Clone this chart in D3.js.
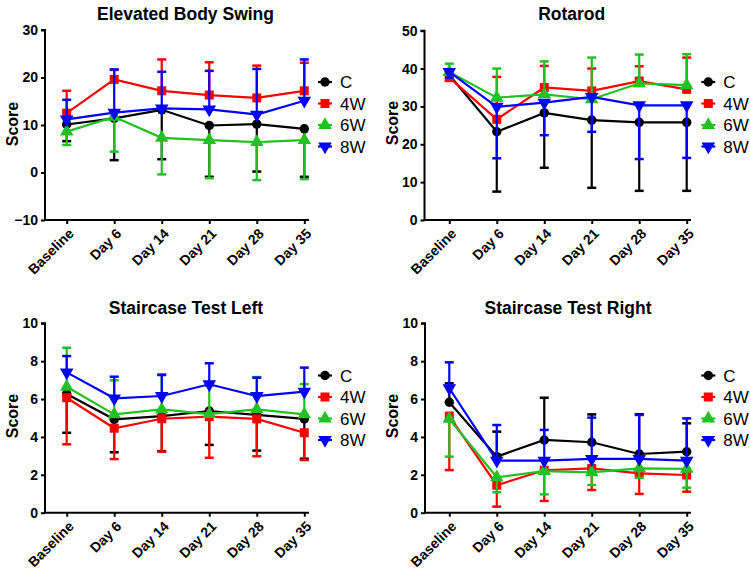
<!DOCTYPE html>
<html><head><meta charset="utf-8">
<script src="https://cdn.jsdelivr.net/npm/d3@7/dist/d3.min.js"></script>
<style>
html,body{margin:0;padding:0;background:#fff;}
svg{display:block;}
text{font-family:"Liberation Sans",Arial,sans-serif;}
</style></head>
<body>
<svg id="chart" width="750" height="573"></svg>
<script>
// ---------- data ----------
const categories = ["Baseline","Day 6","Day 14","Day 21","Day 28","Day 35"];
const seriesNames = ["C","4W","6W","8W"];

// Elevated Body Swing
const ebsC   = [10.1, 11.4, 13.2, 9.9, 10.2, 9.2];
const ebs4W  = [12.5, 19.6, 17.2, 16.3, 15.7, 17.2];
const ebs6W  = [8.6, 11.7, 7.3, 6.8, 6.4, 6.8];
const ebs8W  = [11.2, 12.6, 13.5, 13.3, 12.2, 15.1];
const ebsErrC  = [3.5, 8.8, 10.4, 10.8, 10.0, 10.1];
const ebsErr4W = [4.7, 2.0, 6.6, 6.9, 6.8, 5.9];
const ebsErr6W = [2.8, 7.3, 7.7, 8.0, 8.0, 8.2];
const ebsErr8W = [4.1, 9.1, 7.7, 8.1, 9.6, 8.7];
const ebsErrDir = [-1, 1, -1, 1];
const ebsTicks = [-10, 0, 10, 20, 30];

// Rotarod
const rotC   = [38.3, 23.3, 28.3, 26.4, 25.8, 25.8];
const rot4W  = [37.6, 26.6, 35.0, 34.1, 36.7, 34.5];
const rot6W  = [39.1, 32.3, 33.2, 31.9, 36.1, 35.6];
const rot8W  = [39.1, 29.9, 31.0, 32.5, 30.3, 30.3];
const rotErrC  = [1.5, 15.8, 14.5, 17.9, 18.1, 18.1];
const rotErr4W = [2.2, 11.2, 5.7, 5.9, 3.9, 8.4];
const rotErr6W = [2.2, 7.7, 8.7, 11.0, 7.6, 8.2];
const rotErr8W = [1.5, 13.6, 8.6, 9.2, 14.2, 13.9];
const rotErrDir = [-1, 1, 1, -1];
const rotTicks = [0, 10, 20, 30, 40, 50];

// Staircase Test Left
const stlC   = [6.27, 4.93, 5.1, 5.37, 5.16, 4.95];
const stl4W  = [6.07, 4.46, 4.96, 5.07, 4.95, 4.22];
const stl6W  = [6.65, 5.19, 5.45, 5.21, 5.46, 5.19];
const stl8W  = [7.41, 6.04, 6.16, 6.78, 6.16, 6.39];
const stlErrC  = [2.05, 1.74, 1.85, 1.79, 1.88, 2.1];
const stlErr4W = [2.46, 1.63, 1.74, 2.17, 1.97, 1.44];
const stlErr6W = [2.06, 1.8, 1.86, 1.5, 1.7, 1.6];
const stlErr8W = [0.86, 1.14, 1.11, 1.11, 0.97, 1.27];
const stlErrDir = [-1, -1, 1, 1];
const stlTicks = [0, 2, 4, 6, 8, 10];

// Staircase Test Right
const strC   = [5.83, 2.96, 3.84, 3.72, 3.1, 3.22];
const str4W  = [5.10, 1.45, 2.24, 2.34, 2.08, 1.99];
const str6W  = [4.95, 1.87, 2.2, 2.13, 2.34, 2.31];
const str8W  = [6.57, 2.75, 2.75, 2.84, 2.84, 2.75];
const strErrC  = [1.0, 1.32, 2.23, 1.47, 2.1, 1.5];
const strErr4W = [2.85, 1.13, 1.62, 1.14, 1.09, 0.88];
const strErr6W = [1.99, 0.79, 1.23, 0.67, 0.5, 0.99];
const strErr8W = [1.37, 1.88, 1.62, 2.18, 2.32, 2.23];
const strErrDir = [1, -1, -1, 1];
const strTicks = [0, 2, 4, 6, 8, 10];

// ---------- styles / layout ----------
const colors = ["#000000", "#ff0000", "#22c022", "#0000ff"];
const shapes = ["circle", "square", "triUp", "triDown"];
const FONT = '"Liberation Sans",Arial,sans-serif';

const panels = [
  { title: "Elevated Body Swing", values: [ebsC, ebs4W, ebs6W, ebs8W], errs: [ebsErrC, ebsErr4W, ebsErr6W, ebsErr8W], dir: ebsErrDir, ticks: ebsTicks,
    axisX: 45, x0: 66.7, x1: 304.3, xEnd: 309, yTop: 30, yBot: 220, titleX: 185.5, titleY: 20, labelX: 12, labelY: 124, legX: 325, legY: 82 },
  { title: "Rotarod", values: [rotC, rot4W, rot6W, rot8W], errs: [rotErrC, rotErr4W, rotErr6W, rotErr8W], dir: rotErrDir, ticks: rotTicks,
    axisX: 424.5, x0: 449.3, x1: 686.7, xEnd: 691, yTop: 30.7, yBot: 220, titleX: 571.7, titleY: 20, labelX: 392.5, labelY: 123, legX: 708.3, legY: 82 },
  { title: "Staircase Test Left", values: [stlC, stl4W, stl6W, stl8W], errs: [stlErrC, stlErr4W, stlErr6W, stlErr8W], dir: stlErrDir, ticks: stlTicks,
    axisX: 45, x0: 66.7, x1: 304.3, xEnd: 309, yTop: 323.3, yBot: 512.7, titleX: 186, titleY: 314, labelX: 12, labelY: 416, legX: 325, legY: 375.5 },
  { title: "Staircase Test Right", values: [strC, str4W, str6W, str8W], errs: [strErrC, strErr4W, strErr6W, strErr8W], dir: strErrDir, ticks: strTicks,
    axisX: 425, x0: 449.3, x1: 686.7, xEnd: 691, yTop: 323.3, yBot: 512.7, titleX: 568, titleY: 314, labelX: 392.5, labelY: 416, legX: 708.3, legY: 375.5 }
];

const svg = d3.select("#chart");

function markerPath(shape) {
  if (shape === "circle") return d3.symbol().type(d3.symbolCircle).size(70)();
  if (shape === "square") return d3.symbol().type(d3.symbolSquare).size(81)();
  return d3.symbol().type(d3.symbolTriangle).size(80)();
}
function drawMarker(g, shape, x, y, color) {
  g.append("path")
    .attr("d", markerPath(shape))
    .attr("transform", `translate(${x},${y})` + (shape === "triDown" ? " rotate(180)" : ""))
    .attr("fill", color)
    .attr("stroke", "none");
}

panels.forEach(p => {
  const g = svg.append("g");
  const yDom = [p.ticks[0], p.ticks[p.ticks.length - 1]];
  const y = d3.scaleLinear().domain(yDom).range([p.yBot, p.yTop]);
  const x = d3.scalePoint().domain(categories).range([p.x0, p.x1]);

  // Y axis
  const yAxis = d3.axisLeft(y).tickValues(p.ticks).tickSize(4).tickPadding(3).tickFormat(d3.format("d"));
  const ya = g.append("g").attr("transform", `translate(${p.axisX},0)`).call(yAxis);
  ya.select(".domain").attr("stroke", "#000").attr("stroke-width", 2).attr("d", `M-4,${p.yTop}H0V${p.yBot}`);
  ya.selectAll(".tick line").attr("stroke", "#000").attr("stroke-width", 2);
  ya.selectAll(".tick text").attr("font-family", FONT).attr("font-size", 14).attr("font-weight", "bold").attr("fill", "#000");

  // X axis
  const xAxis = d3.axisBottom(x).tickSize(4).tickFormat(d => d);
  const xa = g.append("g").attr("transform", `translate(0,${p.yBot})`).call(xAxis);
  xa.select(".domain").attr("stroke", "#000").attr("stroke-width", 2).attr("d", `M${p.axisX - 1},0H${p.xEnd}`);
  xa.selectAll(".tick line").attr("stroke", "#000").attr("stroke-width", 2);
  xa.selectAll(".tick text")
    .attr("font-family", FONT).attr("font-size", 14).attr("font-weight", "bold").attr("fill", "#000")
    .attr("text-anchor", "end")
    .attr("x", 0).attr("y", 0).attr("dy", "0.35em")
    .attr("transform", "translate(4,11) rotate(-45)");

  // Series
  p.values.forEach((vals, si) => {
    const col = colors[si];
    const sg = g.append("g");
    // error bars (one-sided)
    vals.forEach((v, i) => {
      const cx = x(categories[i]);
      const end = v + p.dir[si] * p.errs[si][i];
      sg.append("line").attr("x1", cx).attr("x2", cx).attr("y1", y(v)).attr("y2", y(end))
        .attr("stroke", col).attr("stroke-width", 2.2);
      sg.append("line").attr("x1", cx - 4.5).attr("x2", cx + 4.5).attr("y1", y(end)).attr("y2", y(end))
        .attr("stroke", col).attr("stroke-width", 2.5);
    });
    // line
    const line = d3.line().x((d, i) => x(categories[i])).y(d => y(d));
    sg.append("path").attr("d", line(vals)).attr("fill", "none").attr("stroke", col).attr("stroke-width", 2.2);
    // markers
    vals.forEach((v, i) => drawMarker(sg, shapes[si], x(categories[i]), y(v), col));
  });

  // Title
  g.append("text").attr("x", p.titleX).attr("y", p.titleY).attr("text-anchor", "middle")
    .attr("font-family", FONT).attr("font-size", 17.5).attr("font-weight", "bold").text(p.title);

  // Y label
  g.append("text").attr("transform", `translate(${p.labelX},${p.labelY}) rotate(-90)`)
    .attr("text-anchor", "middle").attr("dy", "0.35em")
    .attr("font-family", FONT).attr("font-size", 16).attr("font-weight", "bold").text("Score");

  // Legend
  seriesNames.forEach((name, si) => {
    const ly = p.legY + si * 21.5;
    g.append("line").attr("x1", p.legX - 7).attr("x2", p.legX + 7).attr("y1", ly).attr("y2", ly)
      .attr("stroke", colors[si]).attr("stroke-width", 2.2);
    drawMarker(g, shapes[si], p.legX, ly, colors[si]);
    g.append("text").attr("x", p.legX + 15).attr("y", ly).attr("dy", "0.36em")
      .attr("font-family", FONT).attr("font-size", 17).text(name);
  });
});
</script>
</body></html>
